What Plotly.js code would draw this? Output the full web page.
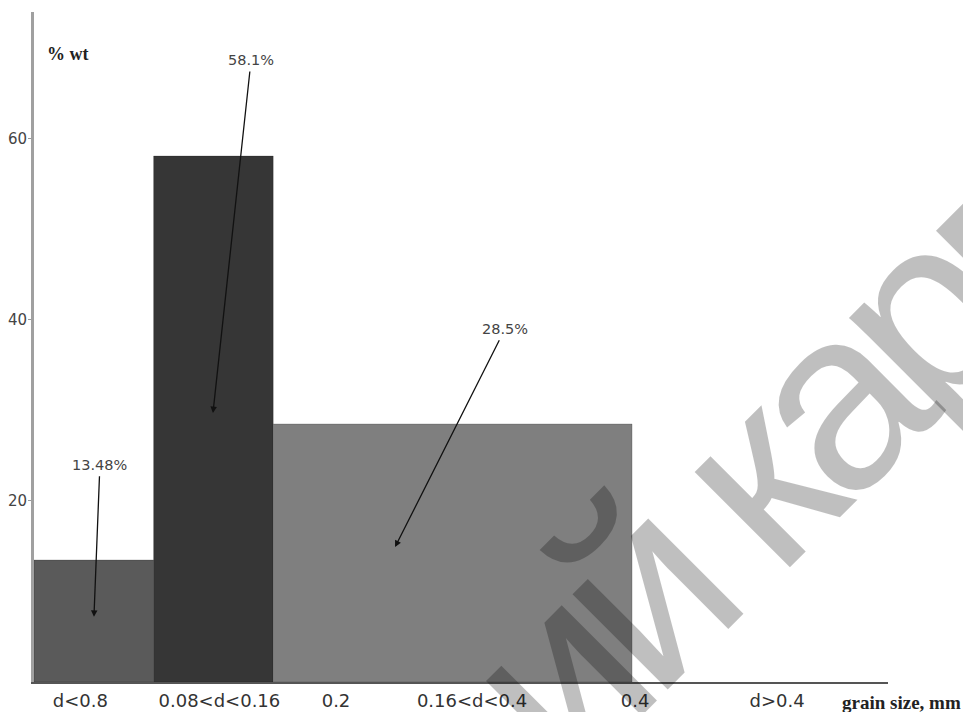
<!DOCTYPE html>
<html>
<head>
<meta charset="utf-8">
<script src="https://cdn.plot.ly/plotly-3.0.1.min.js"></script>
<style>html,body{margin:0;padding:0;background:#fff;}#chart{width:963px;height:712px;}</style>
</head>
<body>
<div id="chart"></div>
<script>
// Grain size bins (mm)
const binLower = [0, 0.08, 0.16];
const binUpper = [0.08, 0.16, 0.4];
const weightPct = [13.48, 58.1, 28.5];
const valueLabels = ["13.48%", "58.1%", "28.5%"];
const barColors = ["#5a5a5a", "#363636", "#7f7f7f"];

// Axis tick labels
const xTickPos = [0.031, 0.124, 0.202, 0.293, 0.402, 0.497];
const xTickText = ["d<0.8", "0.08<d<0.16", "0.2", "0.16<d<0.4", "0.4", "d>0.4"];
const yTickVals = [20, 40, 60];

// annotation arrow geometry (head / text position, data coords)
const arrowHeadX = [0.0401, 0.1197, 0.2415];
const arrowHeadY = [7.2, 29.7, 14.9];
const labelX = [0.0441, 0.1452, 0.315];
const labelY = [24.0, 68.7, 39.0];

const mids = binLower.map((l, i) => (l + binUpper[i]) / 2);
const widths = binLower.map((l, i) => binUpper[i] - l);

const trace = {
  type: 'bar',
  x: mids,
  y: weightPct,
  width: widths,
  marker: {color: barColors, line: {color: 'rgba(0,0,0,0.18)', width: 1}},
  hoverinfo: 'skip',
  showlegend: false
};

const annotations = valueLabels.map((t, i) => ({
  x: arrowHeadX[i], y: arrowHeadY[i], xref: 'x', yref: 'y',
  ax: labelX[i], ay: labelY[i], axref: 'x', ayref: 'y',
  text: t, showarrow: true, arrowhead: 2, arrowsize: 1, arrowwidth: 1.3,
  arrowcolor: '#111', standoff: 0, startstandoff: 2,
  font: {family: 'DejaVu Sans', size: 14.5, color: '#444'}
}));

annotations.push({
  xref: 'paper', yref: 'paper', x: 0.0129, y: 0.937, xanchor: 'left', yanchor: 'middle',
  text: '% wt', showarrow: false,
  font: {family: 'Liberation Serif', size: 18, color: '#222', weight: 'bold'}
});
annotations.push({
  xref: 'paper', yref: 'paper', x: 1.088, y: -0.031, xanchor: 'right', yanchor: 'middle',
  text: 'grain size, mm', showarrow: false,
  font: {family: 'Liberation Serif', size: 19, color: '#222', weight: 'bold'}
});
// watermark
annotations.push({
  xref: 'paper', yref: 'paper', x: 0.866, y: 0.334, xanchor: 'center', yanchor: 'middle',
  text: '<span style="letter-spacing:-20px">ий карп</span>', showarrow: false, textangle: -45,
  font: {family: 'Liberation Sans', size: 255, color: 'rgba(0,0,0,0.25)'}
});

const layout = {
  width: 963, height: 712,
  margin: {l: 34, r: 75, t: 12, b: 30},
  paper_bgcolor: '#fff', plot_bgcolor: '#fff',
  bargap: 0,
  xaxis: {
    range: [0, 0.5712], showgrid: false, zeroline: false,
    showline: true, linecolor: '#555', linewidth: 2,
    tickmode: 'array', tickvals: xTickPos, ticktext: xTickText,
    ticks: 'outside', ticklen: 1, tickcolor: 'rgba(0,0,0,0)',
    tickfont: {family: 'DejaVu Sans', size: 18, color: '#333'}
  },
  yaxis: {
    range: [0, 74.0], showgrid: false, zeroline: false,
    showline: true, linecolor: '#a0a0a0', linewidth: 3,
    tickmode: 'array', tickvals: yTickVals,
    ticks: 'outside', ticklen: 3, tickcolor: '#999', tickwidth: 1,
    ticklabelstandoff: -2,
    tickfont: {family: 'DejaVu Sans', size: 15, color: '#444'}
  },
  annotations: annotations
};

Plotly.newPlot('chart', [trace], layout, {displayModeBar: false, staticPlot: true});
</script>
</body>
</html>
